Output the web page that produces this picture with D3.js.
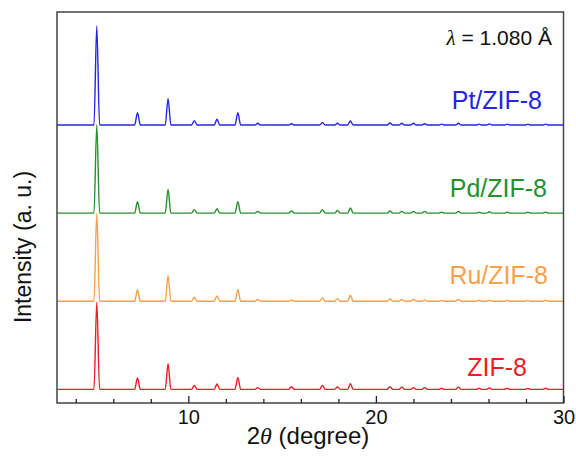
<!DOCTYPE html>
<html>
<head>
<meta charset="utf-8">
<script src="https://cdn.jsdelivr.net/npm/d3@7"></script>
<style>
  body { margin: 0; background: #fff; }
  text { font-family: Arial, "Liberation Sans", sans-serif; }
</style>
</head>
<body>
<script>
// samples, bottom to top
const samples = ["ZIF-8", "Ru/ZIF-8", "Pd/ZIF-8", "Pt/ZIF-8"];
const offsets = [0, 1, 2, 3];

// peak positions (2theta, degree)
const peakPos = [5.12, 7.29, 8.92, 10.32, 11.53, 12.64, 13.70, 15.50, 17.15, 17.95, 18.64,
                 20.75, 21.38, 22.00, 22.60, 23.50, 24.40, 25.50, 26.05, 27.00, 28.10, 29.05];

// peak heights (units of trace spacing) for each sample
const hZIF8 = [0.99, 0.13, 0.29, 0.045, 0.06, 0.135, 0.02, 0.03, 0.045, 0.027, 0.065,
               0.03, 0.025, 0.02, 0.02, 0.012, 0.025, 0.012, 0.015, 0.012, 0.01, 0.012];
const hRu = [1.0, 0.13, 0.29, 0.045, 0.06, 0.135, 0.02, 0.015, 0.038, 0.03, 0.068,
             0.026, 0.02, 0.02, 0.015, 0.01, 0.02, 0.012, 0.012, 0.01, 0.01, 0.012];
const hPd = [1.0, 0.13, 0.27, 0.04, 0.05, 0.13, 0.02, 0.025, 0.04, 0.03, 0.06,
             0.025, 0.02, 0.02, 0.02, 0.01, 0.02, 0.012, 0.015, 0.01, 0.01, 0.01];
const hPt = [1.125, 0.14, 0.30, 0.05, 0.065, 0.14, 0.02, 0.015, 0.027, 0.02, 0.045,
             0.023, 0.02, 0.02, 0.015, 0.01, 0.02, 0.01, 0.012, 0.01, 0.01, 0.01];
const heights = [hZIF8, hRu, hPd, hPt];

const xMajorTicks = [10, 20, 30];
const xMinorTicks = [4, 6, 8, 12, 14, 16, 18, 22, 24, 26, 28];

// ---- layout ----
const width = 576, height = 468;
const plot = {left: 57, right: 563.5, top: 12, bottom: 403};
const colors = ["#ee1c25", "#f6a04d", "#26912b", "#2424e6"];
const labelRight = [527, 548, 547, 542];
const labelY = [376, 284, 197, 109];
const peakHalf = 0.15;

const svg = d3.select("body").append("svg")
  .attr("width", width)
  .attr("height", height);

const x = d3.scaleLinear().domain([3, 30]).range([plot.left, plot.right]);
const y = d3.scaleLinear().domain([-0.155, 4.283]).range([plot.bottom, plot.top]);

// build trace points per sample from peak table
function tracePoints(i) {
  const pts = [[3, offsets[i]]];
  peakPos.forEach((p, k) => {
    pts.push([p - peakHalf, offsets[i]]);
    pts.push([p, offsets[i] + heights[i][k]]);
    pts.push([p + peakHalf, offsets[i]]);
  });
  pts.push([30, offsets[i]]);
  return pts;
}

const line = d3.line()
  .x(d => x(d[0]))
  .y(d => y(d[1]))
  .curve(d3.curveMonotoneX);

svg.append("g")
  .selectAll("path")
  .data(samples)
  .join("path")
  .attr("d", (d, i) => line(tracePoints(i)))
  .attr("fill", "none")
  .attr("stroke", (d, i) => colors[i])
  .attr("stroke-width", 1.4);

// sample labels
svg.append("g")
  .selectAll("text")
  .data(samples)
  .join("text")
  .attr("x", (d, i) => labelRight[i])
  .attr("y", (d, i) => labelY[i])
  .attr("text-anchor", "end")
  .style("font-size", "25px")
  .attr("fill", (d, i) => colors[i])
  .text(d => d);

// frame
svg.append("rect")
  .attr("x", plot.left)
  .attr("y", plot.top)
  .attr("width", plot.right - plot.left)
  .attr("height", plot.bottom - plot.top)
  .attr("fill", "none")
  .attr("stroke", "#444")
  .attr("stroke-width", 1.5);

// x axis, ticks pointing inward
const xAxis = d3.axisBottom(x)
  .tickValues(xMajorTicks)
  .tickSize(-7)
  .tickPadding(7)
  .tickFormat(d3.format("d"));

const gx = svg.append("g")
  .attr("transform", `translate(0,${plot.bottom})`)
  .call(xAxis);
gx.select(".domain").remove();
gx.selectAll(".tick line").attr("stroke", "#222").attr("stroke-width", 1.3);
gx.selectAll(".tick text")
  .style("font-size", "20px")
  .attr("fill", "#111");

const gxMinor = svg.append("g")
  .attr("transform", `translate(0,${plot.bottom})`)
  .call(d3.axisBottom(x).tickValues(xMinorTicks).tickSize(-4).tickFormat(""));
gxMinor.select(".domain").remove();
gxMinor.selectAll(".tick line").attr("stroke", "#222").attr("stroke-width", 1.3);

// axis titles
const xTitle = svg.append("text")
  .attr("x", 308)
  .attr("y", 444)
  .attr("text-anchor", "middle")
  .style("font-size", "24px")
  .attr("fill", "#111");
xTitle.append("tspan").text("2");
xTitle.append("tspan")
  .style("font-family", "'Liberation Serif', 'DejaVu Serif', serif")
  .style("font-style", "italic")
  .text("\u03b8");
xTitle.append("tspan").text(" (degree)");

svg.append("text")
  .attr("transform", `translate(31,247) rotate(-90)`)
  .attr("text-anchor", "middle")
  .style("font-size", "23px")
  .attr("fill", "#111")
  .text("Intensity (a. u.)");

// wavelength note
const lam = svg.append("text")
  .attr("x", 552)
  .attr("y", 45)
  .attr("text-anchor", "end")
  .style("font-size", "21px")
  .attr("fill", "#111");
lam.append("tspan")
  .style("font-family", "'Liberation Serif', 'DejaVu Serif', serif")
  .style("font-style", "italic")
  .text("\u03bb");
lam.append("tspan").text(" = 1.080 \u00c5");
</script>
</body>
</html>
